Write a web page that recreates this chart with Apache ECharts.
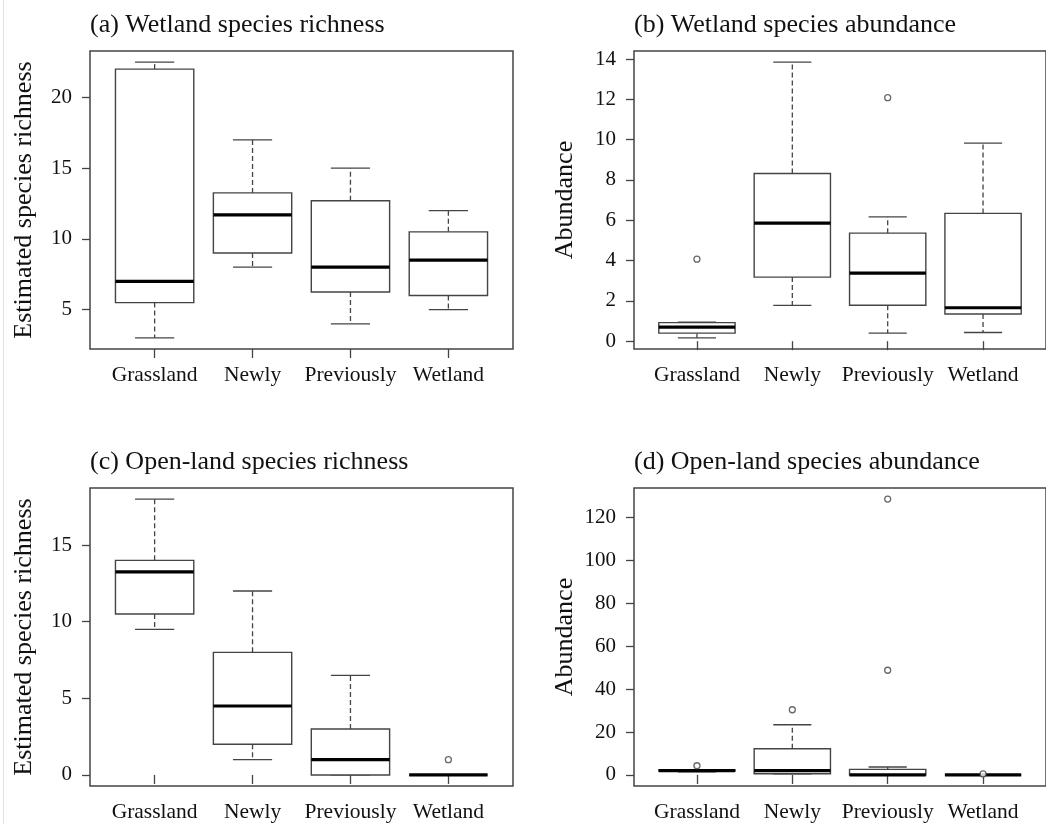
<!DOCTYPE html>
<html>
<head>
<meta charset="utf-8">
<title>Species richness and abundance</title>
<script src="https://cdn.jsdelivr.net/npm/echarts@6/dist/echarts.min.js"></script>
<style>
  html, body { margin: 0; padding: 0; background: #fff; }
  #main { width: 1046px; height: 824px; }
</style>
</head>
<body>
<div id="main"></div>
<script>
var groups = ['Grassland', 'Newly', 'Previously', 'Wetland'];
var groupPos = [1, 2, 3, 4];

// five-number summaries per group: [min, Q1, median, Q3, max]
var richWet = [
    [3, 5.5, 7, 22, 22.5],
    [8, 9, 11.7, 13.25, 17],
    [4, 6.25, 8, 12.7, 15],
    [5, 6, 8.5, 10.5, 12]
];
var abunWet = [
    [0.16, 0.4, 0.7, 0.92, 0.95],
    [1.78, 3.18, 5.86, 8.32, 13.85],
    [0.4, 1.78, 3.38, 5.36, 6.17],
    [0.43, 1.35, 1.66, 6.34, 9.83]
];
var richOpen = [
    [9.5, 10.5, 13.25, 14, 18],
    [1, 2, 4.5, 8, 12],
    [0, 0, 1, 3, 6.5],
    [0, 0, 0, 0, 0]
];
var abunOpen = [
    [1.5, 1.8, 2, 2.3, 2.5],
    [0.5, 0.6, 2, 12.2, 23.4],
    [0, 0, 0, 2.6, 3.7],
    [0, 0, 0, 0, 0]
];

// outliers: [group position, value]
var richWetOut = [];
var abunWetOut = [[1, 4.07], [3, 12.08]];
var richOpenOut = [[4, 1]];
var abunOpenOut = [[1, 4.3], [2, 30.4], [3, 48.8], [3, 128.6], [4, 0.5]];

var richWetTicks = [5, 10, 15, 20];
var abunWetTicks = [0, 2, 4, 6, 8, 10, 12, 14];
var richOpenTicks = [0, 5, 10, 15];
var abunOpenTicks = [0, 20, 40, 60, 80, 100, 120];

var titles = [
    '(a) Wetland species richness',
    '(b) Wetland species abundance',
    '(c) Open-land species richness',
    '(d) Open-land species abundance'
];
var yNames = ['Estimated species richness', 'Abundance', 'Estimated species richness', 'Abundance'];

var FONT = '"Liberation Serif", "Times New Roman", serif';
var INK = '#111';
var LINE = '#444';

var panels = [
    { stats: richWet, out: richWetOut, ticks: richWetTicks, left: 90, top: 51, gap: 53 },
    { stats: abunWet, out: abunWetOut, ticks: abunWetTicks, left: 634, top: 51, gap: 56 },
    { stats: richOpen, out: richOpenOut, ticks: richOpenTicks, left: 90, top: 488, gap: 53 },
    { stats: abunOpen, out: abunOpenOut, ticks: abunOpenTicks, left: 634, top: 488, gap: 56 }
];

// R style range: data range padded by 4% each side
function paddedRange(stats, out) {
    var vals = [];
    stats.forEach(function (s) { vals = vals.concat(s); });
    out.forEach(function (o) { vals.push(o[1]); });
    var lo = Math.min.apply(null, vals), hi = Math.max.apply(null, vals);
    var pad = (hi - lo) * 0.04;
    return [lo - pad, hi + pad];
}

function renderBox(params, api) {
    var x = api.value(0);
    var pMin = api.coord([x, api.value(1)]);
    var pQ1 = api.coord([x, api.value(2)]);
    var pMed = api.coord([x, api.value(3)]);
    var pQ3 = api.coord([x, api.value(4)]);
    var pMax = api.coord([x, api.value(5)]);
    var hw = api.size([0.8, 0])[0] / 2;
    var sw = hw / 2;
    var cx = pMed[0];
    var dash = { stroke: LINE, lineWidth: 1.3, lineDash: [5, 3], fill: null };
    var solid = { stroke: LINE, lineWidth: 1.3, fill: null };
    return {
        type: 'group',
        children: [
            { type: 'line', shape: { x1: cx, y1: pQ3[1], x2: cx, y2: pMax[1] }, style: dash },
            { type: 'line', shape: { x1: cx, y1: pQ1[1], x2: cx, y2: pMin[1] }, style: dash },
            { type: 'line', shape: { x1: cx - sw, y1: pMax[1], x2: cx + sw, y2: pMax[1] }, style: solid },
            { type: 'line', shape: { x1: cx - sw, y1: pMin[1], x2: cx + sw, y2: pMin[1] }, style: solid },
            { type: 'rect', shape: { x: cx - hw, y: pQ3[1], width: 2 * hw, height: pQ1[1] - pQ3[1] },
              style: { fill: '#fff', stroke: LINE, lineWidth: 1.4 } },
            { type: 'line', shape: { x1: cx - hw, y1: pMed[1], x2: cx + hw, y2: pMed[1] },
              style: { stroke: '#000', lineWidth: 3.2 } }
        ]
    };
}

var option = {
    backgroundColor: '#fff',
    animation: false,
    graphic: [{
        // faint page edge seen in the original figure
        type: 'rect', left: 3, top: 0,
        shape: { width: 1, height: 824 },
        style: { fill: '#e2e2e2' }
    }],
    title: [],
    grid: [],
    xAxis: [],
    yAxis: [],
    series: []
};

panels.forEach(function (p, i) {
    var range = paddedRange(p.stats, p.out);
    option.title.push({
        text: titles[i],
        left: p.left,
        top: p.top - 39,
        padding: 0,
        textStyle: { fontFamily: FONT, fontSize: 26, fontWeight: 'normal', color: INK }
    });
    option.grid.push({
        left: p.left, top: p.top, width: 423, height: 298,
        show: true, borderColor: '#444', borderWidth: 1.5, backgroundColor: 'transparent'
    });
    option.xAxis.push({
        type: 'value',
        gridIndex: i,
        min: 0.34,
        max: 4.66,
        splitLine: { show: false },
        axisLine: { show: false },
        axisTick: { show: true, length: 9, customValues: groupPos, lineStyle: { color: LINE, width: 1.3 } },
        axisLabel: {
            customValues: groupPos,
            margin: 15,
            fontFamily: FONT, fontSize: 21.5, color: INK,
            formatter: function (v) { return groups[Math.round(v) - 1] || ''; }
        }
    });
    option.yAxis.push({
        type: 'value',
        gridIndex: i,
        min: range[0],
        max: range[1],
        name: yNames[i],
        nameLocation: 'middle',
        nameGap: p.gap,
        nameTextStyle: { fontFamily: FONT, fontSize: 26, color: INK },
        splitLine: { show: false },
        axisLine: { show: false },
        axisTick: { show: true, length: 8, customValues: p.ticks, lineStyle: { color: LINE, width: 1.3 } },
        axisLabel: { customValues: p.ticks, margin: 18, fontFamily: FONT, fontSize: 21, color: INK }
    });
    option.series.push({
        type: 'custom',
        xAxisIndex: i,
        yAxisIndex: i,
        renderItem: renderBox,
        encode: { x: 0, y: [1, 2, 3, 4, 5] },
        data: p.stats.map(function (s, k) { return [groupPos[k]].concat(s); }),
        z: 2
    });
    option.series.push({
        type: 'scatter',
        xAxisIndex: i,
        yAxisIndex: i,
        symbol: 'circle',
        symbolSize: 6,
        itemStyle: { color: '#fff', borderColor: LINE, borderWidth: 1.3 },
        data: p.out,
        z: 3
    });
});

var myChart = echarts.init(document.getElementById('main'));
myChart.setOption(option);
</script>
</body>
</html>
